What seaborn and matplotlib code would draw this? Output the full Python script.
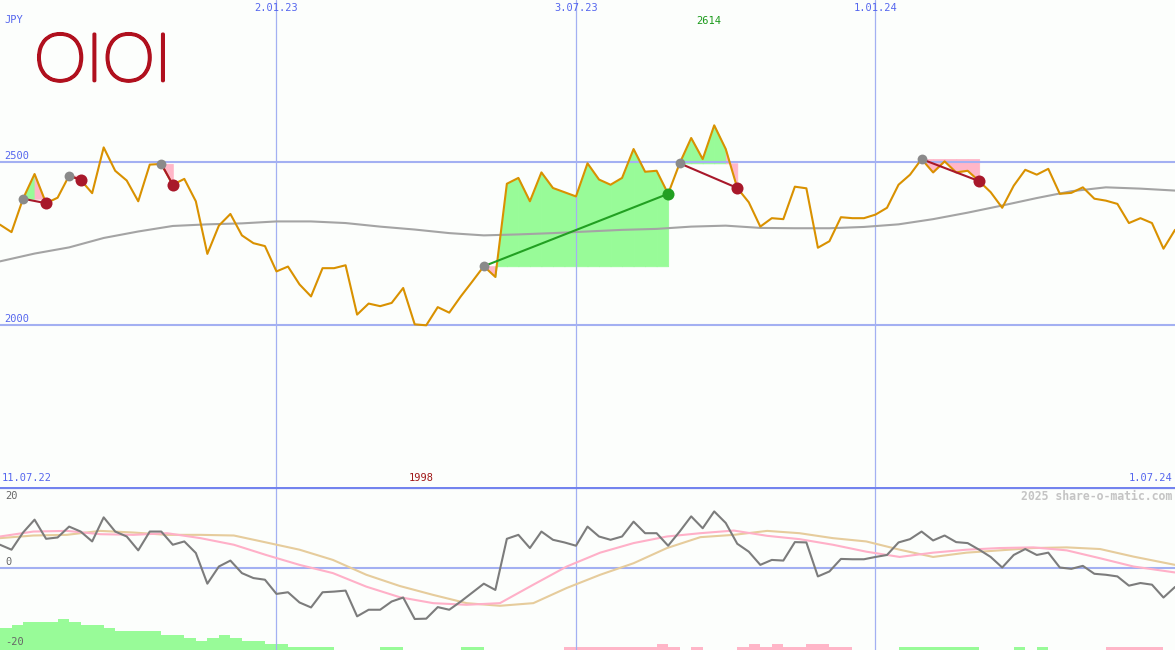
import matplotlib
matplotlib.use('Agg')
import matplotlib.pyplot as plt
import matplotlib.patheffects as pe
import numpy as np
import pandas as pd
import seaborn as sns

# weekly closes (JPY), week 0 = left edge
PRICE = [2308, 2285, 2388, 2464, 2374, 2391, 2459, 2446, 2405, 2546,
         2474, 2444, 2380, 2493, 2495, 2431, 2449, 2380, 2218, 2305,
         2341, 2275, 2251, 2242, 2164, 2179, 2124, 2087, 2174, 2174,
         2183, 2031, 2065, 2057, 2067, 2113, 2001, 1998, 2054, 2037,
         2087, 2133, 2180, 2147, 2434, 2452, 2380, 2469, 2421, 2408,
         2395, 2497, 2447, 2431, 2452, 2541, 2471, 2474, 2403, 2497,
         2575, 2510, 2614, 2541, 2421, 2377, 2302, 2328, 2325, 2425,
         2420, 2237, 2257, 2331, 2328, 2328, 2339, 2360, 2431, 2462,
         2510, 2469, 2503, 2469, 2474, 2442, 2408, 2360, 2428, 2477,
         2462, 2480, 2403, 2406, 2423, 2388, 2382, 2372, 2313, 2328,
         2313, 2234, 2292]

# long moving average, read every 3 weeks
MA_WEEKS = list(range(0, 103, 3))
MA = [2195, 2219, 2238, 2267, 2287, 2304, 2309, 2312, 2318, 2318,
      2313, 2302, 2293, 2282, 2275, 2278, 2282, 2287, 2292, 2295,
      2302, 2305, 2298, 2297, 2297, 2301, 2309, 2325, 2345, 2367,
      2390, 2411, 2423, 2419, 2413]

# lower panel: momentum (gray)
MOMENTUM = [6.9, 5.4, 10.6, 14.5, 8.7, 9.1, 12.4, 10.9, 7.9, 15.2,
            10.9, 9.4, 5.2, 10.9, 10.9, 6.9, 7.9, 4.4, -4.9, 0.3,
            2.1, -1.7, -3.2, -3.7, -8.0, -7.5, -10.6, -12.1, -7.5, -7.3,
            -7.0, -14.8, -12.8, -12.8, -10.3, -9.1, -15.6, -15.5, -12.0, -12.8,
            -10.3, -7.6, -4.9, -6.8, 8.7, 9.9, 5.9, 10.9, 8.4, 7.6,
            6.6, 12.4, 9.4, 8.4, 9.4, 13.9, 10.4, 10.4, 6.6, 10.9,
            15.5, 11.9, 17.0, 13.5, 7.2, 4.8, 0.8, 2.3, 2.1, 7.7,
            7.6, -2.7, -1.2, 2.6, 2.5, 2.5, 3.2, 3.8, 7.6, 8.6,
            10.9, 8.2, 9.7, 7.7, 7.4, 5.4, 3.2, 0.0, 3.8, 5.6,
            3.8, 4.5, 0.0, -0.4, 0.5, -1.9, -2.2, -2.7, -5.5, -4.7,
            -5.2, -9.1, -5.9]

# smoothed lines of the lower panel
SMOOTH_WEEKS = [0, 2.9, 5.8, 8.7, 11.6, 14.5, 17.4, 20.3, 23.1, 26.0,
                28.9, 31.8, 34.7, 37.6, 40.5, 43.4, 46.3, 49.2, 52.1, 55.0,
                57.9, 60.8, 63.7, 66.6, 69.4, 72.3, 75.2, 78.1, 81.0, 83.9,
                86.8, 89.7, 92.6, 95.5, 98.4, 102.0]
PINK_AVG = [9.4, 10.9, 11.1, 10.1, 9.9, 10.4, 8.9, 6.9, 3.8, 0.8,
            -1.7, -5.8, -9.0, -10.8, -11.3, -10.8, -5.2, 0.3, 4.5, 7.4,
            9.4, 10.4, 11.2, 9.6, 8.6, 6.9, 4.8, 3.2, 4.5, 5.4,
            5.9, 6.1, 5.2, 2.8, 0.3, -1.5]
TAN_AVG = [8.9, 9.7, 9.9, 11.1, 10.6, 9.9, 9.9, 9.7, 7.6, 5.4,
           2.3, -2.2, -5.6, -8.3, -10.8, -11.6, -10.8, -6.2, -2.2, 1.3,
           5.9, 9.2, 9.9, 11.1, 10.4, 8.9, 7.9, 5.4, 3.2, 4.5,
           5.2, 5.9, 6.1, 5.6, 3.3, 0.8]

# trend bars at the foot of the lower panel (+ green, - pink)
TREND = [6.8, 7.6, 8.6, 8.6, 8.6, 9.4, 8.5, 7.6, 7.6, 6.8,
         5.8, 5.8, 5.8, 5.8, 4.5, 4.5, 3.7, 2.7, 3.7, 4.5,
         3.7, 2.8, 2.8, 1.9, 1.9, 0.9, 0.9, 0.9, 0.9, 0,
         0, 0, 0, 0.9, 0.9, 0, 0, 0, 0, 0,
         0.9, 0.9, 0, 0, 0, 0, 0, 0, 0, -0.9,
         -0.9, -0.9, -0.9, -0.9, -0.9, -0.9, -0.9, -1.8, -0.9, 0,
         -0.9, 0, 0, 0, -0.9, -1.8, -0.9, -1.8, -0.9, -0.9,
         -1.8, -1.8, -0.9, -0.9, 0, 0, 0, 0, 0.9, 0.9,
         0.9, 0.9, 0.9, 0.9, 0.9, 0, 0, 0, 0.9, 0,
         0.9, 0, 0, 0, 0, 0, -0.9, -0.9, -0.9, -0.9,
         -0.9, 0]

# (entry week, exit week, direction)
SIGNALS = [(2, 4, 'sell'), (6, 7, 'sell'), (14, 15, 'sell'),
           (42, 58, 'buy'), (59, 64, 'sell'), (80, 85, 'sell')]

GRID_WEEKS = [24, 50, 76]
GRID_LABELS = ['2.01.23', '3.07.23', '1.01.24']

W, H = 1175, 650
BG = '#fcfefc'
BLUE = '#5566ee'
GRID = '#a3b0f2'
GREEN_FILL = '#98fb98'
PINK_FILL = '#ffb6c8'
LOGO_RED = '#b0101e'
MONO = 'DejaVu Sans Mono'

sns.set_theme(style='white')
plt.rcParams['font.family'] = ['DejaVu Sans']

fig = plt.figure(figsize=(W / 100, H / 100), dpi=100, facecolor=BG)
ax = fig.add_axes([0, 163 / H, 1, 487 / H], facecolor=BG)
ax2 = fig.add_axes([0, 0, 1, 163 / H], facecolor=BG)

weeks = np.arange(len(PRICE))
price = np.array(PRICE, dtype=float)

# --- upper panel ---
for s, e, kind in SIGNALS:
    entry = price[s]
    for k in range(s, e):
        col = GREEN_FILL if price[k + 1] >= entry else PINK_FILL
        ax.fill_between(weeks[k:k + 2], price[k:k + 2], entry,
                        facecolor=col, edgecolor=col, linewidth=0.6,
                        zorder=1)

for y in [2000, 2500]:
    ax.axhline(y, color=GRID, linewidth=1.5, zorder=2)
for wk in GRID_WEEKS:
    ax.axvline(wk, color=GRID, linewidth=0.9, zorder=2)

sns.lineplot(x=MA_WEEKS, y=MA, ax=ax, color='#a4a4a4', linewidth=1.5,
             zorder=3)
sns.lineplot(x=weeks, y=price, ax=ax, color='#d99100', linewidth=1.5,
             zorder=4)

for s, e, kind in SIGNALS:
    lc = '#a8182a' if kind == 'sell' else '#22a022'
    sns.lineplot(x=[s, e], y=[price[s], price[e]], ax=ax, color=lc,
                 linewidth=1.5, zorder=5)
    ax.scatter([s], [price[s]], s=50, color='#8a8a8a', zorder=6,
               linewidths=0)
    ax.scatter([e], [price[e]], s=75, color=lc, zorder=6, linewidths=0)

ax.set_xlim(0, len(PRICE) - 1)
ax.set_ylim(1500, 3000)

# --- lower panel ---
trend = np.array(TREND)
ax2.bar(np.arange(len(TREND)), np.abs(trend), bottom=-25, width=1,
        align='edge', color=[GREEN_FILL if v > 0 else PINK_FILL
                             for v in trend], linewidth=0, zorder=1)
ax2.axhline(0, color=GRID, linewidth=1.5, zorder=2)
for wk in GRID_WEEKS:
    ax2.axvline(wk, color=GRID, linewidth=0.9, zorder=2)
sns.lineplot(x=SMOOTH_WEEKS, y=TAN_AVG, ax=ax2, color='#e6cc9c',
             linewidth=1.5, zorder=3)
sns.lineplot(x=SMOOTH_WEEKS, y=PINK_AVG, ax=ax2, color='#ffb0c8',
             linewidth=1.5, zorder=3)
sns.lineplot(x=weeks, y=MOMENTUM, ax=ax2, color='#7c7c7c',
             linewidth=1.5, zorder=4)
ax2.axhline(24.1, color='#7383ee', linewidth=1.6, zorder=5)
ax2.set_xlim(0, len(PRICE) - 1)
ax2.set_ylim(-25, 24.4)

for a in (ax, ax2):
    a.set_xticks([])
    a.set_yticks([])
    a.set_xlabel('')
    a.set_ylabel('')
    for sp in a.spines.values():
        sp.set_visible(False)


def put(x, y, s, **kw):
    kw.setdefault('va', 'center')
    kw.setdefault('family', MONO)
    kw.setdefault('fontsize', 7.5)
    return fig.text(x / W, 1 - y / H, s, **kw)


put(4, 20, 'JPY', color=BLUE)
for wk, lab in zip(GRID_WEEKS, GRID_LABELS):
    put(wk * W / (len(PRICE) - 1), 8, lab, color=BLUE, ha='center')
put(709, 21, str(max(PRICE)), color='#1a9a1a', ha='center')
put(4, 156, '2500', color=BLUE)
put(4, 319, '2000', color=BLUE)
put(2, 478, '11.07.22', color=BLUE)
put(421, 478, str(min(PRICE)), color='#a01818', ha='center')
put(1172, 478, '1.07.24', color=BLUE, ha='right')
put(1172, 496, '2025 share-o-matic.com', color='#c4c4c4', ha='right',
    fontsize=8.3, fontweight='bold')
put(5, 496, '20', color='#666666')
put(5, 562, '0', color='#666666')
put(5, 642, '-20', color='#666666')
logo = put(34, 63, 'OIOI', color=LOGO_RED, family=['Lato', 'DejaVu Sans'],
           fontsize=48, fontweight='light')
logo.set_path_effects([pe.withStroke(linewidth=2.3, foreground=LOGO_RED)])

fig.savefig('out.png', dpi=100, facecolor=BG)
